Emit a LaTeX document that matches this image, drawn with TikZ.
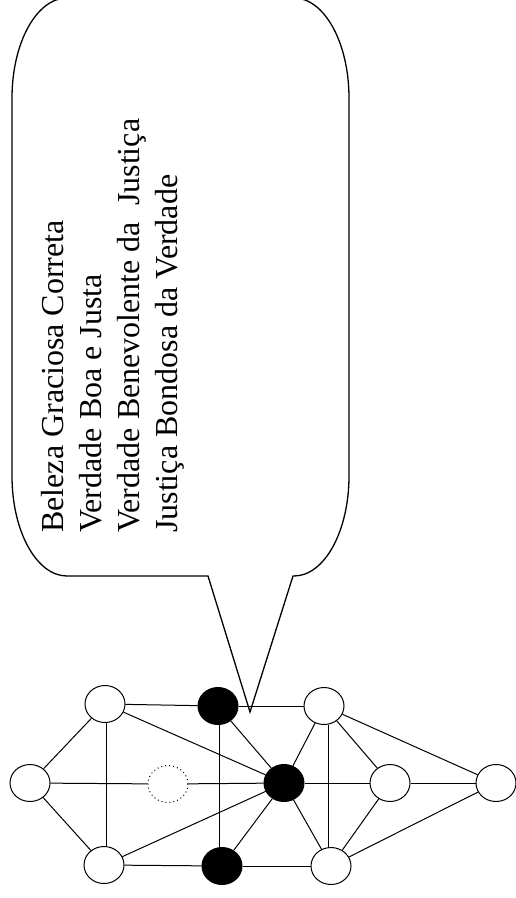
\documentclass[tikz,border=0pt]{standalone}
\usepackage{fontspec}
\setmainfont{Liberation Serif}
\usetikzlibrary{shapes.geometric}
\begin{document}
\begin{tikzpicture}[x=1pt,y=1pt,
  vert/.style={ellipse, draw, line width=1pt, minimum width=40pt, minimum height=37pt, inner sep=0pt, fill=white},
  blk/.style={vert, fill=black},
  ghost/.style={vert, dash pattern=on 1pt off 3pt},
  edge/.style={line width=1pt},
  callout/.style={line width=1.3pt},
  lbl/.style={rotate=90, anchor=base west, inner sep=0pt, font=\fontsize{32}{38}\selectfont}]
\useasboundingbox (0,0) rectangle (516,-898);

% callout
\coordinate (tailL) at (208,-576);
\coordinate (tip) at (250,-712);
\coordinate (tailR) at (293,-576);
\draw[callout] (tailL) -- (tip) -- (tailR) -- (294,-576)
  arc[start angle=270, end angle=360, x radius=55, y radius=100] -- (349,-98)
  arc[start angle=0, end angle=90, x radius=55, y radius=100] -- (67,2)
  arc[start angle=90, end angle=180, x radius=55, y radius=100] -- (12,-476)
  arc[start angle=180, end angle=270, x radius=55, y radius=100] -- cycle;

\node[lbl] (t1) at (63,-533) {Beleza Graciosa Correta};
\node[lbl] (t2) at (101,-533) {Verdade Boa e Justa};
\node[lbl] (t3) at (139,-533) {Verdade Benevolente da\ \ Justiça};
\node[lbl] (t4) at (177,-533) {Justiça Bondosa da Verdade};

% graph nodes
\node[vert] (TL) at (105,-704) {};
\node[blk]  (TB) at (218,-706) {};
\node[vert] (TR) at (324,-706) {};
\node[vert] (L)  at (30,-783) {};
\node[ghost] (D) at (168,-784) {};
\node[blk]  (C)  at (284,-783) {};
\node[vert] (R)  at (390,-783) {};
\node[vert] (FR) at (496,-783) {};
\node[vert] (BL) at (104,-865) {};
\node[blk]  (BB) at (222,-866) {};
\node[vert] (BR) at (331,-866) {};

\coordinate (v1) at (106,0);
\coordinate (v2) at (219,0);
\coordinate (v3) at (328,0);

\draw[edge] (L) -- (TL);
\draw[edge] (L) -- (BL);
\draw[edge] (L) -- (D);
\draw[edge] (D) -- (C);
\draw[edge] (TL.south -| v1) -- (BL.north -| v1);
\draw[edge] (TL) -- (TB);
\draw[edge] (TB) -- (TR);
\draw[edge] (TL) -- (C);
\draw[edge] (TB.south -| v2) -- (BB.north -| v2);
\draw[edge] (TB) -- (C);
\draw[edge] (C) -- (TR);
\draw[edge] (C) -- (R);
\draw[edge] (C) -- (BR);
\draw[edge] (C) -- (BB);
\draw[edge] (C) -- (BL);
\draw[edge] (TR.south -| v3) -- (BR.north -| v3);
\draw[edge] (TR) -- (R);
\draw[edge] (TR) -- (FR);
\draw[edge] (R) -- (FR);
\draw[edge] (R) -- (BR);
\draw[edge] (BR) -- (FR);
\draw[edge] (BL) -- (BB);
\draw[edge] (BB) -- (BR);
\end{tikzpicture}
\end{document}
